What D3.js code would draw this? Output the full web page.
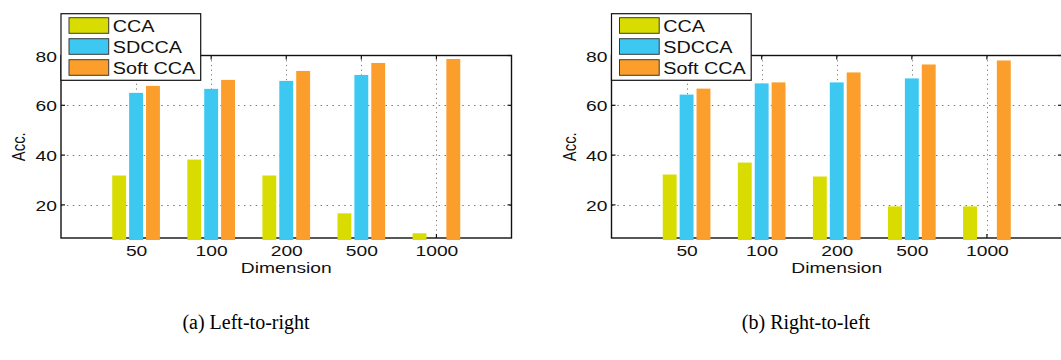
<!DOCTYPE html>
<html>
<head>
<meta charset="utf-8">
<script src="https://cdn.jsdelivr.net/npm/d3@7"></script>
<style>
  html, body { margin: 0; padding: 0; background: #fff; }
  svg { display: block; }
  text { font-family: "Liberation Sans", Arial, Helvetica, sans-serif; fill: #111; }
  .caption { font-family: "Liberation Serif", "Times New Roman", serif; fill: #000; }
</style>
</head>
<body>
<svg id="chart" width="1061" height="360"></svg>
<script>
// Embedding dimensions on the x axis
const dimensions = ["50", "100", "200", "500", "1000"];
const seriesNames = ["CCA", "SDCCA", "Soft CCA"];
const seriesColors = ["#d8dc00", "#3dc8f2", "#fb9e2c"];

// Accuracy, left-to-right direction
const ltrCCA   = [31.8, 38.2, 31.8, 16.6, 8.6];
const ltrSDCCA = [65.0, 66.6, 69.8, 72.2, null];
const ltrSoft  = [67.8, 70.2, 73.8, 77.0, 78.6];

// Accuracy, right-to-left direction
const rtlCCA   = [32.2, 37.0, 31.4, 19.4, 19.4];
const rtlSDCCA = [64.3, 68.8, 69.2, 70.8, null];
const rtlSoft  = [66.7, 69.2, 73.2, 76.4, 78.0];

const yTicks = [20, 40, 60, 80];
const yLabel = "Acc.";
const xLabel = "Dimension";
const captions = ["(a) Left-to-right", "(b) Right-to-left"];

const svg = d3.select("#chart");
const STRETCH = 1.25;          // glyphs are set wide, as in the exported figure
const FS = 15.4;

function drawPanel(ox, values, caption, captionX) {
  const left = ox, right = ox + 450.5, top = 55.5, bottom = 238;
  const g = svg.append("g");

  const x = d3.scaleLinear().domain([0, dimensions.length + 1]).range([left, right]);
  const y = d3.scaleLinear().domain([6.7, 80]).range([bottom, top]);
  const offset = d3.scalePoint().domain(seriesNames).range([-0.225, 0.225]);
  const barW = x(0.185) - x(0);

  // dotted grid
  const grid = g.append("g").attr("stroke", "#7a7a7a").attr("stroke-width", 1).attr("fill", "none");
  grid.selectAll("line.h").data(yTicks.filter(v => v < 80)).join("line")
    .attr("class", "h")
    .attr("x1", left).attr("x2", right)
    .attr("y1", d => Math.round(y(d)) + 0.5).attr("y2", d => Math.round(y(d)) + 0.5)
    .attr("stroke-dasharray", "1.5,4.4");
  grid.selectAll("line.v").data(dimensions).join("line")
    .attr("class", "v")
    .attr("x1", (d, i) => Math.round(x(i + 1)) + 0.5).attr("x2", (d, i) => Math.round(x(i + 1)) + 0.5)
    .attr("y1", top).attr("y2", bottom)
    .attr("stroke-dasharray", "1.2,3.5");

  // frame
  g.append("rect")
    .attr("x", left).attr("y", top)
    .attr("width", right - left).attr("height", bottom - top)
    .attr("fill", "none").attr("stroke", "#111").attr("stroke-width", 1.4);

  // inward ticks on all four sides
  const ticks = g.append("g").attr("stroke", "#111").attr("stroke-width", 1.2);
  yTicks.forEach(v => {
    ticks.append("line").attr("x1", left).attr("x2", left + 4).attr("y1", y(v)).attr("y2", y(v));
    ticks.append("line").attr("x1", right).attr("x2", right - 4).attr("y1", y(v)).attr("y2", y(v));
  });
  dimensions.forEach((d, i) => {
    ticks.append("line").attr("x1", x(i + 1)).attr("x2", x(i + 1)).attr("y1", bottom).attr("y2", bottom - 4);
    ticks.append("line").attr("x1", x(i + 1)).attr("x2", x(i + 1)).attr("y1", top).attr("y2", top + 4);
  });

  // bars
  values.forEach((vals, s) => {
    g.append("g").attr("fill", seriesColors[s])
      .selectAll("rect")
      .data(vals.map((v, i) => ({ v, i })).filter(d => d.v != null))
      .join("rect")
      .attr("x", d => x(d.i + 1 + offset(seriesNames[s])) - barW / 2)
      .attr("width", barW)
      .attr("y", d => y(d.v))
      .attr("height", d => bottom + 2 - y(d.v));
  });

  // y axis labels
  const yAxis = g.append("g")
    .attr("transform", `translate(${left},0)`)
    .call(d3.axisLeft(y).tickValues(yTicks).tickSize(0).tickFormat(d3.format("d")));
  yAxis.select(".domain").remove();
  yAxis.selectAll("text")
    .attr("x", 0).attr("dy", "0.36em")
    .attr("transform", `translate(-4,0) scale(${STRETCH},1)`)
    .style("font-size", FS + "px")
    .attr("font-family", null).attr("fill", "#111");

  // x axis labels
  const xAxis = g.append("g")
    .attr("transform", `translate(0,${bottom})`)
    .call(d3.axisBottom(x).tickValues(d3.range(1, dimensions.length + 1)).tickSize(0)
      .tickFormat(i => dimensions[i - 1]));
  xAxis.select(".domain").remove();
  xAxis.selectAll("text")
    .attr("y", 0).attr("dy", null)
    .attr("transform", `translate(0,18) scale(${STRETCH},1)`)
    .style("font-size", FS + "px")
    .attr("font-family", null).attr("fill", "#111");

  // axis titles
  g.append("text")
    .attr("transform", `translate(${(left + right) / 2},${bottom + 34.7}) scale(${STRETCH},1)`)
    .attr("text-anchor", "middle")
    .style("font-size", FS + "px")
    .text(xLabel);
  g.append("text")
    .attr("transform", `translate(${ox - 36},${(top + bottom) / 2}) scale(${STRETCH},1) rotate(-90)`)
    .attr("text-anchor", "middle")
    .style("font-size", "14.8px")
    .text(yLabel);

  // legend
  const lg = g.append("g").attr("transform", `translate(${left},13.7)`);
  lg.append("rect")
    .attr("width", 139.7).attr("height", 66.6)
    .attr("fill", "#fff").attr("stroke", "#111").attr("stroke-width", 1.2);
  seriesNames.forEach((name, s) => {
    lg.append("rect")
      .attr("x", 8).attr("y", 4 + 21 * s)
      .attr("width", 39.7).attr("height", 15.6)
      .attr("fill", seriesColors[s]).attr("stroke", "#3a3a3a").attr("stroke-width", 1);
    lg.append("text")
      .attr("transform", `translate(51.7,${18.6 + 21 * s}) scale(1.2,1)`)
      .style("font-size", "16.5px")
      .text(name);
  });

  // subfigure caption
  svg.append("text")
    .attr("class", "caption")
    .attr("x", captionX).attr("y", 329)
    .attr("text-anchor", "middle")
    .style("font-size", "20px")
    .text(caption);
}

drawPanel(61, [ltrCCA, ltrSDCCA, ltrSoft], captions[0], 246);
drawPanel(611.5, [rtlCCA, rtlSDCCA, rtlSoft], captions[1], 806);
</script>
</body>
</html>
